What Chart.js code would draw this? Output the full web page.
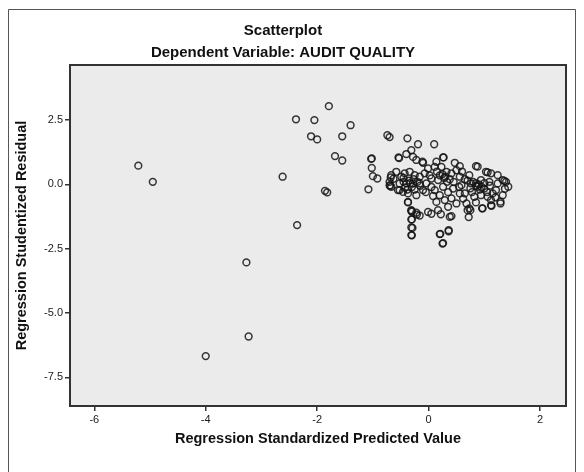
<!DOCTYPE html>
<html>
<head>
<meta charset="utf-8">
<script src="https://cdn.jsdelivr.net/npm/chart.js@4.4.1/dist/chart.umd.min.js"></script>
<style>
  html, body { margin: 0; padding: 0; background: #ffffff; }
  #c { display: block; }
</style>
</head>
<body>
<canvas id="c" width="584" height="472"></canvas>
<script>
// Regression standardized predicted values (x) and studentized residuals (y)
const predictedValues = [
  -5.21, -4.95, -4.00, -3.27, -3.23, -2.62, -2.38, -2.36, -2.05, -2.11,
  -2.00, -1.79, -1.40, -1.55, -1.68, -1.55, -1.86, -1.82, -1.08, -1.03,
  -1.02, -1.02, -1.00, -0.92, -0.74, -0.70, -0.69, -0.68, -0.63,
  -0.38, -0.19, 0.10, -0.31, -0.40, -0.54, -0.53, -0.28, -0.22, -0.10,
  -0.11, 0.14, 0.27, 0.26, 0.47, 0.56, 0.85, 0.88, 1.03, 1.06,
  1.12, 1.24, 1.33, 1.39, 1.43, 1.37, 1.36, 1.33, 1.29, 1.29,
  1.12, 1.13, 0.97, 0.96, 0.73, 0.68, 0.65, 0.76, 0.73, 0.56,
  0.41, 0.32, 0.23, 0.11, -0.01, -0.07, -0.16, -0.25, -0.34, -0.43,
  -0.49, -0.67, -0.70, -0.67, -0.70, -0.55, -0.52, -0.46, -0.37, -0.37,
  -0.37, -0.22, -0.10, -0.04, 0.05, 0.17, 0.26, 0.11, 0.20, 0.14,
  0.29, 0.41, 0.50, 0.35, 0.17, -0.01, -0.31, -0.22, 0.56, 0.44,
  0.59, 0.88, 1.00, 0.94, 0.82, 1.06, 1.12, 1.21, 1.24, 0.94,
  1.09, -0.16, -0.28, -0.40, -0.52, -0.58, -0.45, -0.35, -0.30, -0.20,
  -0.25, -0.42, -0.15, 0.25, 0.30, 0.20, 0.38, 0.45, 0.80, 0.85,
  0.90, 0.95, 0.75, 0.70, 1.00, 1.05, 0.60, 0.50, 0.02, -0.05,
  0.08, 0.35, 0.62, 0.85, 1.15, 1.20,
  0.05, 0.22, 0.38, 0.41, 0.72, 0.70, 0.75, 0.36, 0.36, 0.20,
  0.21, 0.25, 0.26, -0.31, -0.30, -0.31, -0.29, -0.31, -0.30, -0.21,
  -0.16, -0.31, -0.30,
  -0.33, -0.27, -0.38, 0.28, 0.33, 0.85, 0.92, 0.78, 1.10, 0.15,
  0.05, -0.45, 0.65, 0.55
];
const studentizedResiduals = [
  0.73, 0.10, -6.67, -3.03, -5.91, 0.30, 2.53, -1.58, 2.50, 1.87,
  1.75, 3.04, 2.30, 1.87, 1.10, 0.93, -0.25, -0.31, -0.19, 0.99,
  1.01, 0.64, 0.32, 0.23, 1.91, 1.84, -0.05, 0.27, 0.22,
  1.79, 1.56, 1.56, 1.33, 1.18, 1.05, 1.02, 1.07, 0.95, 0.84,
  0.88, 0.88, 1.05, 1.05, 0.84, 0.71, 0.71, 0.69, 0.49, 0.47,
  0.43, 0.36, 0.17, 0.10, -0.09, -0.17, 0.14, -0.42, -0.74, -0.67,
  -0.81, -0.83, -0.93, -0.93, -0.93, -0.74, -0.35, 0.04, 0.36, 0.30,
  0.43, 0.49, 0.68, 0.68, 0.62, 0.43, 0.30, 0.36, 0.49, 0.43,
  0.30, 0.36, 0.10, -0.09, -0.04, -0.22, -0.22, -0.29, -0.35, -0.68,
  -0.70, -0.42, -0.22, 0.04, 0.23, 0.17, -0.09, -0.22, -0.42, -0.68,
  -0.61, -0.54, -0.74, -0.87, -1.00, -1.07, -1.00, -1.10, -0.35, -0.16,
  -0.03, -0.09, -0.16, -0.42, -0.48, -0.48, -0.61, -0.22, 0.04, 0.17,
  0.10, 0.04, 0.04, 0.04, 0.04, 0.49, 0.10, 0.15, -0.10, 0.10,
  -0.20, -0.12, -0.05, 0.40, 0.30, 0.35, 0.20, 0.10, 0.10, -0.05,
  0.00, -0.10, -0.15, 0.15, 0.05, -0.30, 0.50, 0.55, 0.35, -0.30,
  -0.45, -0.30, -0.55, -0.70, -0.35, -0.50,
  -1.14, -1.16, -1.26, -1.23, -1.27, -1.00, -1.00, -1.78, -1.82, -1.93,
  -1.92, -2.30, -2.28, -1.36, -1.36, -1.67, -1.69, -1.97, -1.98, -1.17,
  -1.21, -1.03, -1.06,
  0.05, 0.20, -0.20, 0.25, 0.10, 0.05, -0.20, -0.30, -0.05, 0.50,
  -0.10, 0.25, 0.20, -0.10
];
const xTickValues = [-6, -4, -2, 0, 2];
const yTickValues = [-7.5, -5, -2.5, 0, 2.5];

const chartTitle = 'Scatterplot';
const chartSubtitle = 'Dependent Variable: AUDIT QUALITY';
const xAxisTitle = 'Regression Standardized Predicted Value';
const yAxisTitle = 'Regression Studentized Residual';

const points = predictedValues.map((x, i) => ({ x: x, y: studentizedResiduals[i] }));

const FONT = "'Liberation Sans', Arial, Helvetica, sans-serif";

const framePlugin = {
  id: 'framePlugin',
  beforeDraw(chart) {
    const ctx = chart.ctx;
    const a = chart.chartArea;
    ctx.save();
    ctx.fillStyle = '#ffffff';
    ctx.fillRect(0, 0, chart.width, chart.height);
    ctx.strokeStyle = '#555555';
    ctx.lineWidth = 1;
    ctx.beginPath();
    ctx.moveTo(8.5, 472);
    ctx.lineTo(8.5, 9.5);
    ctx.lineTo(575.5, 9.5);
    ctx.lineTo(575.5, 472);
    ctx.stroke();
    ctx.fillStyle = '#ebebeb';
    ctx.fillRect(a.left, a.top, a.right - a.left, a.bottom - a.top);
    ctx.restore();
  },
  afterDraw(chart) {
    const ctx = chart.ctx;
    const a = chart.chartArea;
    ctx.save();
    ctx.strokeStyle = '#333333';
    ctx.lineWidth = 2;
    ctx.strokeRect(a.left, a.top, a.right - a.left, a.bottom - a.top);
    ctx.restore();
  }
};

new Chart(document.getElementById('c'), {
  type: 'scatter',
  data: {
    datasets: [{
      data: points,
      pointStyle: 'circle',
      pointRadius: 3.4,
      pointBorderWidth: 1.5,
      pointBorderColor: 'rgba(20,20,20,0.85)',
      pointBackgroundColor: 'rgba(0,0,0,0)',
      pointHoverRadius: 3.4
    }]
  },
  options: {
    responsive: false,
    animation: false,
    events: [],
    layout: { padding: { top: 9, left: 0, right: 18, bottom: 0 } },
    plugins: {
      legend: { display: false },
      tooltip: { enabled: false },
      title: {
        display: true,
        text: chartTitle,
        color: '#111111',
        font: { family: FONT, size: 15, weight: 'bold' },
        padding: { top: 13, bottom: 4 }
      },
      subtitle: {
        display: true,
        text: chartSubtitle,
        color: '#111111',
        font: { family: FONT, size: 15, weight: 'bold' },
        padding: { top: 0, bottom: 3 }
      }
    },
    scales: {
      x: {
        type: 'linear',
        min: -6.436,
        max: 2.466,
        afterBuildTicks(scale) { scale.ticks = xTickValues.map(v => ({ value: v })); },
        afterFit(scale) { scale.height = 66; },
        ticks: {
          color: '#1a1a1a',
          font: { family: FONT, size: 11 },
          padding: 2,
          callback: v => String(v)
        },
        grid: { drawOnChartArea: false, drawTicks: true, tickLength: 5, color: '#333333', lineWidth: 1.5 },
        border: { display: true, color: '#333333', width: 2 },
        title: {
          display: true,
          text: xAxisTitle,
          color: '#111111',
          font: { family: FONT, size: 14.5, weight: 'bold' },
          padding: { top: 0, bottom: 24 }
        }
      },
      y: {
        type: 'linear',
        min: -8.61,
        max: 4.64,
        afterBuildTicks(scale) { scale.ticks = yTickValues.map(v => ({ value: v })); },
        afterFit(scale) { scale.width = 70; },
        ticks: {
          color: '#1a1a1a',
          font: { family: FONT, size: 11 },
          padding: 2,
          callback: v => Number(v).toFixed(1)
        },
        grid: { drawOnChartArea: false, drawTicks: true, tickLength: 5, color: '#333333', lineWidth: 1.5 },
        border: { display: true, color: '#333333', width: 2 },
        title: {
          display: true,
          text: yAxisTitle,
          color: '#111111',
          font: { family: FONT, size: 14.5, weight: 'bold' },
          padding: { top: 13, bottom: 0 }
        }
      }
    }
  },
  plugins: [framePlugin]
});
</script>
</body>
</html>
